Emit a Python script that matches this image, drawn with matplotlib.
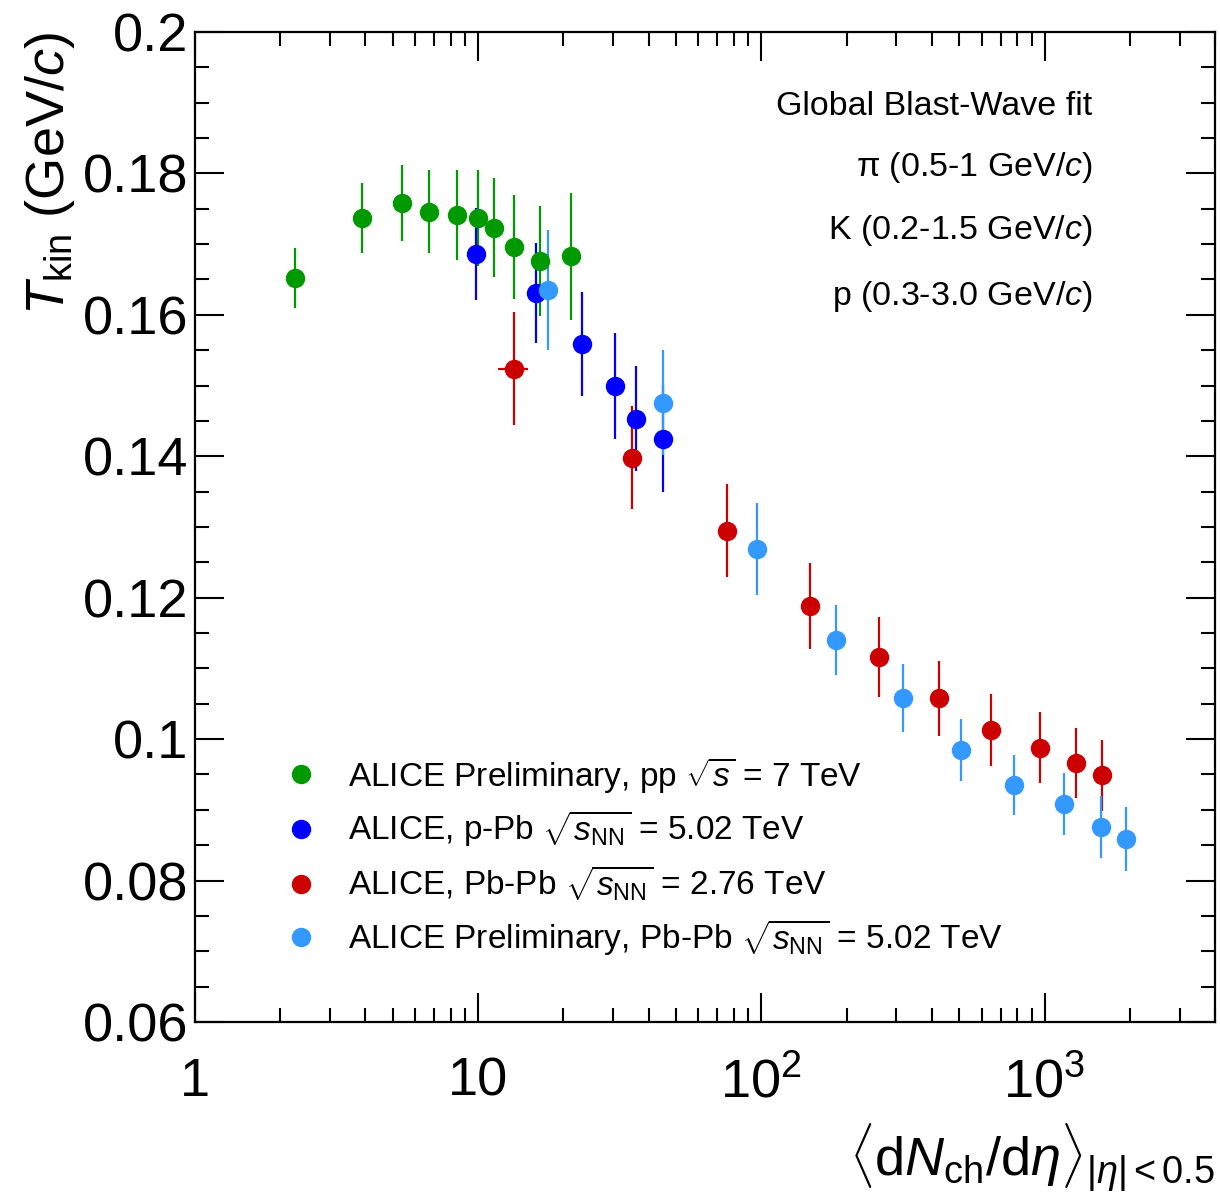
import matplotlib
matplotlib.use('Agg')
import matplotlib.pyplot as plt
from matplotlib.ticker import FixedLocator, MultipleLocator, NullFormatter, FixedFormatter

plt.rcParams['font.family'] = ['Liberation Sans', 'DejaVu Sans']
plt.rcParams['mathtext.fontset'] = 'custom'
plt.rcParams['mathtext.rm'] = 'Liberation Sans'
plt.rcParams['mathtext.it'] = 'Liberation Sans:italic'
plt.rcParams['mathtext.bf'] = 'Liberation Sans:bold'

# pp 7 TeV (preliminary)
pp_x = [2.25, 3.88, 5.37, 6.69, 8.40, 10.0, 11.4, 13.4, 16.5, 21.2]
pp_y = [0.1652, 0.1737, 0.1758, 0.1746, 0.1741, 0.1737, 0.1723, 0.1696, 0.1676, 0.1683]
pp_err = [0.0043, 0.0050, 0.0054, 0.0059, 0.0064, 0.0068, 0.0070, 0.0073, 0.0078, 0.0090]

# p-Pb 5.02 TeV
ppb_x = [9.8, 16.0, 23.2, 30.5, 36.1, 44.9]
ppb_y = [0.1686, 0.1631, 0.1559, 0.1499, 0.1453, 0.1425]
ppb_err = [0.0065, 0.0071, 0.0074, 0.0075, 0.0074, 0.0076]

# Pb-Pb 2.76 TeV
pbpb276_x = [13.37, 34.9, 75.9, 148.5, 260, 424.5, 647.5, 961.5, 1288, 1592]
pbpb276_xerr = [1.6, 0, 0, 0, 0, 0, 0, 0, 0, 0]
pbpb276_y = [0.1524, 0.1398, 0.1295, 0.1188, 0.1116, 0.1058, 0.1013, 0.0988, 0.0966, 0.0949]
pbpb276_err = [0.0080, 0.0073, 0.0066, 0.0061, 0.0056, 0.0053, 0.0051, 0.0050, 0.0049, 0.0050]

# Pb-Pb 5.02 TeV (preliminary)
pbpb502_x = [17.6, 44.9, 96.2, 182.9, 316.7, 509, 782, 1175, 1578, 1933]
pbpb502_y = [0.1635, 0.1476, 0.1269, 0.1140, 0.1058, 0.0985, 0.0935, 0.0908, 0.0876, 0.0859]
pbpb502_err = [0.0085, 0.0074, 0.0065, 0.0049, 0.0048, 0.0044, 0.0043, 0.0044, 0.0044, 0.0045]

labels = [r'ALICE Preliminary, pp $\sqrt{s}$ = 7 TeV',
          r'ALICE, p-Pb $\sqrt{s_{\mathrm{NN}}}$ = 5.02 TeV',
          r'ALICE, Pb-Pb $\sqrt{s_{\mathrm{NN}}}$ = 2.76 TeV',
          r'ALICE Preliminary, Pb-Pb $\sqrt{s_{\mathrm{NN}}}$ = 5.02 TeV']
colors = ['#009900', '#0000ff', '#cc0000', '#3399ff']

fit_text = ['Global Blast-Wave fit', 'π (0.5-1 GeV/$c$)',
            r'K (0.2-1.5 GeV/$c$)', r'p (0.3-3.0 GeV/$c$)']

fig = plt.figure(figsize=(12.2, 12.03), dpi=100)
ax = fig.add_axes([0.1598, 0.1505, 0.8361, 0.8229])

series = [(pp_x, pp_y, None, pp_err),
          (ppb_x, ppb_y, None, ppb_err),
          (pbpb276_x, pbpb276_y, pbpb276_xerr, pbpb276_err),
          (pbpb502_x, pbpb502_y, None, pbpb502_err)]

handles = []
for (x, y, xe, ye), c in zip(series, colors):
    cont = ax.errorbar(x, y, yerr=ye, xerr=xe, fmt='o', color=c, ms=14, mew=0,
                       elinewidth=1.6, capsize=3, capthick=1.8)
    handles.append(cont.lines[0])

ax.set_xscale('log')
ax.set_xlim(1, 4000)
ax.set_ylim(0.06, 0.2)

ax.xaxis.set_major_locator(FixedLocator([1, 10, 100, 1000]))
ax.xaxis.set_major_formatter(FixedFormatter(['1', '10', r'$10^{2}$', r'$10^{3}$']))
ax.xaxis.set_minor_locator(FixedLocator([m * 10**d for d in range(4) for m in range(2, 10)]))
ax.xaxis.set_minor_formatter(NullFormatter())
ax.yaxis.set_major_locator(FixedLocator([0.06, 0.08, 0.1, 0.12, 0.14, 0.16, 0.18, 0.2]))
ax.yaxis.set_major_formatter(FixedFormatter(['0.06', '0.08', '0.1', '0.12', '0.14', '0.16', '0.18', '0.2']))
ax.yaxis.set_minor_locator(MultipleLocator(0.005))

ax.tick_params(which='both', direction='in', top=True, right=True, width=1.5, labelsize=39)
ax.tick_params(which='major', length=21)
ax.tick_params(which='minor', length=10)
ax.tick_params(axis='x', pad=25)
ax.tick_params(axis='y', pad=5)
for s in ax.spines.values():
    s.set_linewidth(1.6)

ax.set_ylabel(r'$T_{\mathrm{kin}}$ (GeV/$c$)', fontsize=39, loc='top', labelpad=4)
ax.set_xlabel(r'$\langle\mathrm{d}N_{\mathrm{ch}}/\mathrm{d}\eta\rangle_{|\eta|<0.5}$',
              fontsize=39, loc='right', labelpad=10)

for txt, yy in zip(fit_text, [0.925, 0.863, 0.799, 0.733]):
    ax.text(0.880, yy, txt, transform=ax.transAxes, ha='right', va='center', fontsize=24.5)

ax.legend(handles, labels, loc='upper left', bbox_to_anchor=(0.088, 0.270),
          frameon=False, fontsize=24, handlelength=1.0, handletextpad=0.9,
          borderpad=0, borderaxespad=0, labelspacing=0.42)

fig.savefig('out.png', dpi=100)
